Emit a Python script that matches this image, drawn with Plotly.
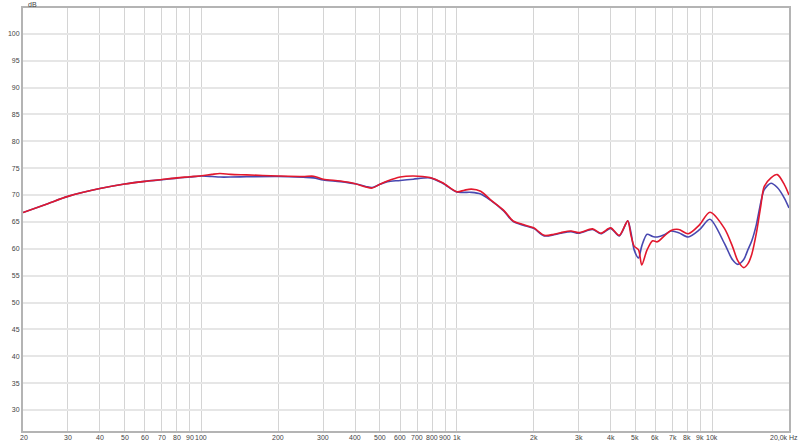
import math
import plotly.graph_objects as go

freq = [20, 25, 30, 40, 50, 60, 70, 80, 90, 100, 110, 118, 130, 150, 200, 250, 275, 300, 350, 400,
        440, 466, 500, 535, 600, 675, 785, 880, 1000, 1070, 1140, 1240, 1350, 1530, 1660, 1820,
        2000, 2200, 2400, 2550, 2800, 3000, 3400, 3670, 4000, 4330, 4670, 4810, 4950, 5150, 5300,
        5560, 5850, 6100, 6500, 6900, 7400, 8060, 8900, 9800, 11170, 12000, 12600, 13300, 13800,
        14300, 14900, 15500, 16000, 17000, 18000, 19200, 20000]

blue_db = [66.75, 68.4, 69.75, 71.2, 72.05, 72.55, 72.85, 73.15, 73.35, 73.55, 73.45, 73.35, 73.35,
           73.4, 73.45, 73.3, 73.2, 72.8, 72.5, 72.1, 71.6, 71.4, 72.0, 72.5, 72.7, 72.95, 73.2,
           72.2, 70.55, 70.5, 70.5, 70.2, 69.1, 67.0, 65.1, 64.4, 63.8, 62.4, 62.6, 62.9, 63.2,
           62.9, 63.6, 62.8, 63.8, 62.4, 65.2, 63.0, 59.8, 58.3, 60.5, 62.7, 62.3, 62.2, 62.6,
           63.3, 63.0, 62.2, 63.5, 65.5, 61.0, 58.0, 57.1, 58.0, 59.8, 61.5, 64.5, 68.6, 71.0,
           72.2, 71.4, 69.4, 67.6]

red_db = [66.75, 68.4, 69.75, 71.2, 72.05, 72.55, 72.9, 73.2, 73.4, 73.6, 73.85, 74.0, 73.85,
          73.75, 73.55, 73.45, 73.5, 72.95, 72.6, 72.1, 71.5, 71.3, 72.0, 72.6, 73.35, 73.55,
          73.25, 72.3, 70.6, 70.9, 71.1, 70.7, 69.2, 67.1, 65.2, 64.5, 63.9, 62.5, 62.7, 63.0,
          63.3, 63.0, 63.7, 62.9, 63.9, 62.5, 65.2, 62.5, 60.5, 59.8, 57.0, 59.8, 61.5, 61.3,
          62.4, 63.4, 63.6, 62.8, 64.4, 66.8, 63.8, 60.5, 57.8, 56.5, 57.2, 59.0, 62.9, 67.9,
          71.6, 73.2, 73.8, 71.9, 70.0]

x_tick_vals = [20, 30, 40, 50, 60, 70, 80, 90, 100, 200, 300, 400, 500, 600, 700, 800, 900,
               1000, 2000, 3000, 4000, 5000, 6000, 7000, 8000, 9000, 10000, 20000]
x_tick_text = ["20", "30", "40", "50", "60", "70", "80", "90", "100", "200", "300", "400", "500",
               "600", "700", "800", "900", "1k", "2k", "3k", "4k", "5k", "6k", "7k", "8k", "9k",
               "10k", "20,0k Hz"]
y_tick_vals = [30, 35, 40, 45, 50, 55, 60, 65, 70, 75, 80, 85, 90, 95, 100]

TEXT = "#444444"
x_lo, x_hi = math.log10(20), math.log10(20000)

fig = go.Figure()
fig.add_trace(go.Scatter(x=freq, y=blue_db, mode="lines",
                         line=dict(color="#4848b0", width=1.6, shape="spline", smoothing=0.8),
                         hoverinfo="skip"))
fig.add_trace(go.Scatter(x=freq, y=red_db, mode="lines",
                         line=dict(color="#e3182d", width=1.6, shape="spline", smoothing=0.8),
                         hoverinfo="skip"))

fig.update_layout(
    width=800, height=443,
    margin=dict(l=23, r=11, t=8, b=12),
    paper_bgcolor="white", plot_bgcolor="white",
    showlegend=False,
    font=dict(family="Liberation Sans, Arial, sans-serif", size=7, color=TEXT),
    xaxis=dict(type="log", range=[x_lo, x_hi], tickvals=x_tick_vals,
               showticklabels=False,
               showgrid=True, gridcolor="#d4d4d4", gridwidth=1, zeroline=False,
               showline=True, linecolor="#b4b4b4", linewidth=2, mirror=True,
               ticks="", automargin=False),
    yaxis=dict(range=[26.1, 104.8], tickvals=y_tick_vals,
               showgrid=True, gridcolor="#e6e6e6", gridwidth=2, zeroline=False,
               showline=True, linecolor="#b4b4b4", linewidth=2, mirror=True,
               ticks="", ticklen=0, automargin=False, tickfont=dict(size=7)),
)

# x-axis tick labels placed just below the axis line (paper x so edge labels are kept)
for v, t in zip(x_tick_vals, x_tick_text):
    xp = (math.log10(v) - x_lo) / (x_hi - x_lo)
    if t.endswith("Hz"):
        anchor, shift = "right", 10
    elif v == 20:
        anchor, shift = "center", 1
    else:
        anchor, shift = "center", 0
    fig.add_annotation(text=t, x=xp, y=0, xref="paper", yref="paper",
                       showarrow=False, xanchor=anchor, yanchor="middle",
                       yshift=-6, xshift=shift, borderpad=0,
                       font=dict(size=7, color=TEXT))

fig.add_annotation(text="dB", x=0.012, y=1.0, xref="paper", yref="paper", showarrow=False,
                   xanchor="center", yanchor="bottom", font=dict(size=7, color=TEXT),
                   yshift=-1, borderpad=0)

fig.write_html("out.html", config={"displayModeBar": False},
               post_script="document.body.style.margin='0';document.body.style.padding='0';"
                           "document.body.style.overflow='hidden';")
